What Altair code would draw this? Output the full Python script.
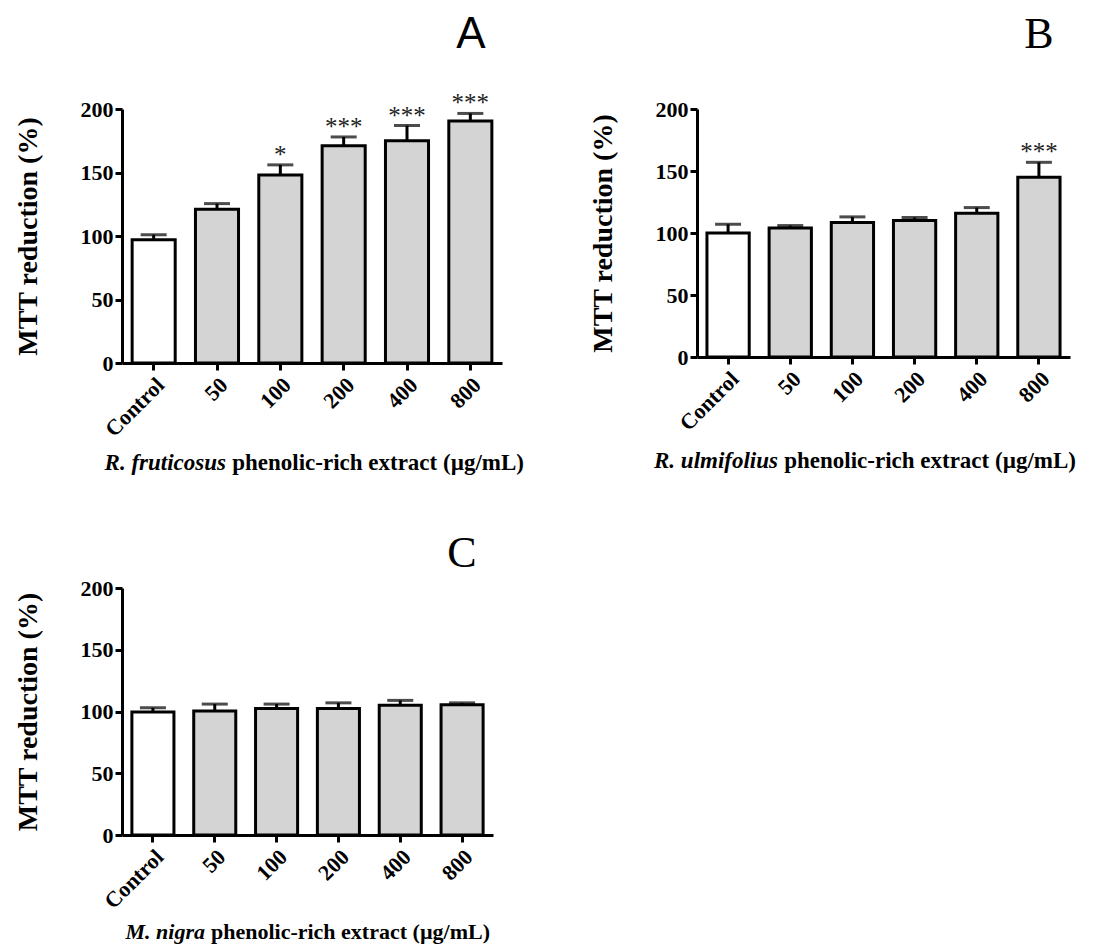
import altair as alt
import pandas as pd

SERIF = "Liberation Serif"

categories = ["Control", "50", "100", "200", "400", "800"]
groups = ["control", "extract", "extract", "extract", "extract", "extract"]
y_ticks = [0, 50, 100, 150, 200]

a_mean = [97, 121, 148, 171, 175, 190.5]
a_err = [4, 4.5, 8, 7, 12, 6]
a_sig = ["", "", "*", "***", "***", "***"]

b_mean = [100, 104, 108.5, 110, 116, 145]
b_err = [7, 2, 4.5, 2.5, 4.5, 12]
b_sig = ["", "", "", "", "", "***"]

c_mean = [99.5, 100.5, 102.5, 102.5, 105, 105.5]
c_err = [3.5, 5.5, 3.5, 4.5, 4, 1.5]
c_sig = ["", "", "", "", "", ""]

species = ["R. fruticosus", "R. ulmifolius", "M. nigra"]
title_rest = "phenolic-rich extract (µg/mL)"
letters = ["A", "B", "C"]


def panel(mean, err, sig, sp, letter, letter_font, letter_dy, W, H,
          split_x, title_size, title_dy):
    df = pd.DataFrame({
        "dose": categories,
        "group": groups,
        "mean": mean,
        "upper": [m + e for m, e in zip(mean, err)],
        "sig": sig,
    })
    x = alt.X("dose:N", sort=categories,
              scale=alt.Scale(paddingInner=0.32, paddingOuter=0.16),
              axis=alt.Axis(title=None, labelAngle=-45, labelPadding=4))
    y = alt.Y("mean:Q", scale=alt.Scale(domain=[0, 200], nice=False),
              axis=alt.Axis(values=y_ticks, title="MTT reduction (%)",
                            titleFont=SERIF, titleFontSize=28, titleFontWeight="bold",
                            titlePadding=38, titleColor="black"))
    base = alt.Chart(df)
    bars = base.mark_bar(stroke="black", strokeWidth=3).encode(
        x=x, y=y,
        fill=alt.Fill("group:N", scale=alt.Scale(domain=["control", "extract"],
                                                  range=["white", "#d4d4d4"]), legend=None),
    )
    rule = base.mark_rule(strokeWidth=3, color="black").encode(
        x=alt.X("dose:N", sort=categories), y="mean:Q", y2="upper:Q")
    cap = base.mark_tick(size=26, thickness=3, color="black").encode(
        x=alt.X("dose:N", sort=categories), y="upper:Q")
    stars = base.mark_text(font=SERIF, fontSize=25, color="#222222",
                           baseline="alphabetic", dy=-2).encode(
        x=alt.X("dose:N", sort=categories), y="upper:Q", text="sig:N")
    tdf = pd.DataFrame({"sp": [sp], "rest": [title_rest], "letter": [letter]})
    tbase = alt.Chart(tdf)
    t1 = tbase.mark_text(font=SERIF, fontSize=title_size, fontWeight="bold", fontStyle="italic",
                         align="right", baseline="middle", color="black").encode(
        text="sp:N", x=alt.value(split_x), y=alt.value(H + title_dy))
    t2 = tbase.mark_text(font=SERIF, fontSize=title_size, fontWeight="bold",
                         align="left", baseline="middle", color="black",
                         dx=title_size * 0.27).encode(
        text="rest:N", x=alt.value(split_x), y=alt.value(H + title_dy))
    lt = tbase.mark_text(font=letter_font, fontSize=44, align="center",
                         baseline="middle", color="black").encode(
        text="letter:N", x=alt.value(W - 31), y=alt.value(letter_dy))
    return alt.layer(bars, rule, cap, stars, t1, t2, lt).properties(width=W, height=H)


pa = panel(a_mean, a_err, a_sig, species[0], letters[0], "Liberation Sans", -74, 380, 254,
           104, 23, 100)
pb = panel(b_mean, b_err, b_sig, species[1], letters[1], SERIF, -74, 373, 248,
           81, 23, 104)
pc = panel(c_mean, c_err, c_sig, species[2], letters[2], SERIF, -34, 371, 247,
           83, 22, 97)

chart = alt.vconcat(
    alt.hconcat(pa, pb, spacing=64),
    pc,
    spacing=57,
).configure_view(stroke=None).configure_axis(
    domainColor="black", domainWidth=3, tickColor="black", tickWidth=3, tickSize=7,
    labelFont=SERIF, labelFontSize=22, labelFontWeight="bold", labelColor="black",
    grid=False,
)

chart.save("out.html", embed_options={"renderer": "svg", "actions": False})
